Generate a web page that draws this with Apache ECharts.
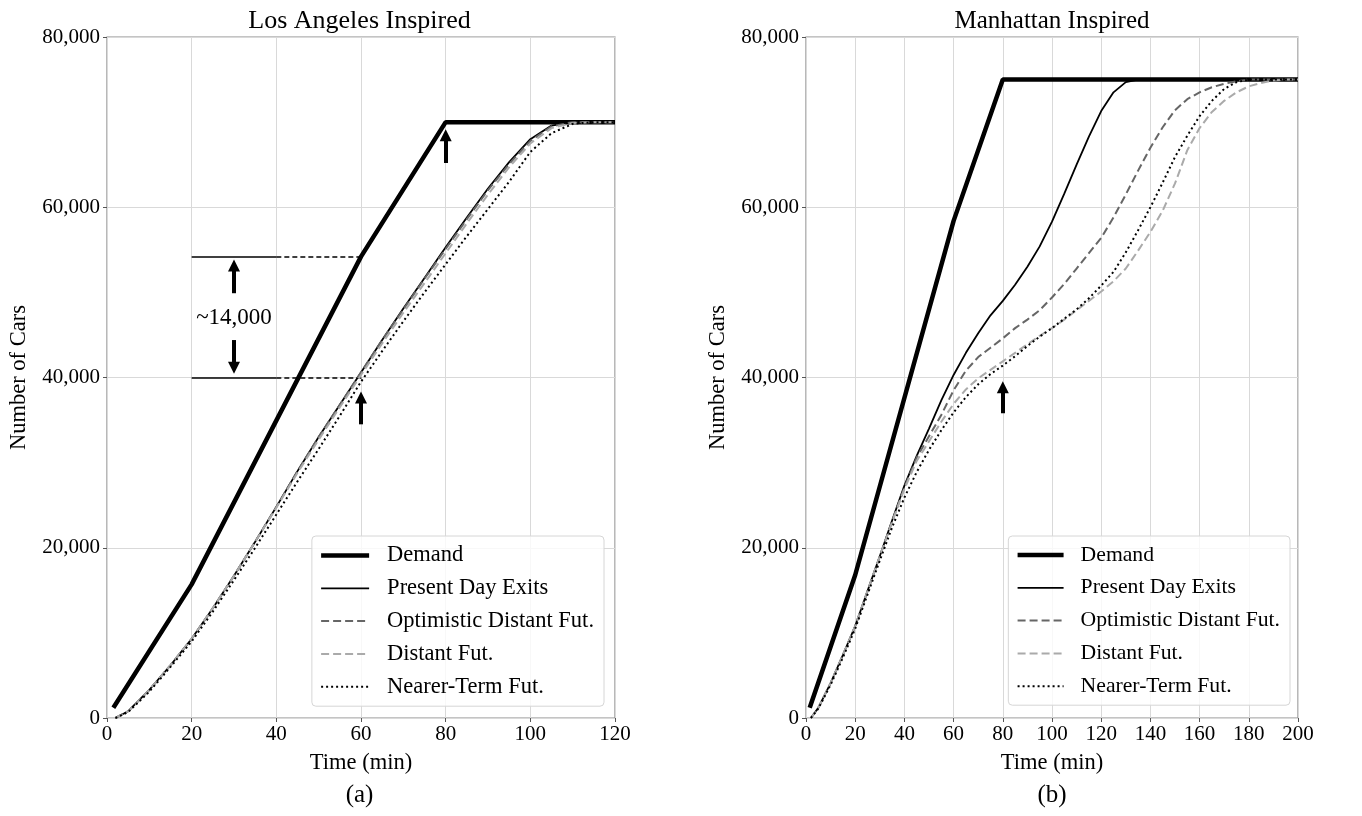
<!DOCTYPE html>
<html>
<head>
<meta charset="utf-8">
<title>Number of Cars vs Time</title>
<script src="https://cdn.jsdelivr.net/npm/echarts@6/dist/echarts.min.js"></script>
<style>
  html, body { margin: 0; padding: 0; background: #fff; }
  .panel { position: absolute; top: 0; width: 681px; height: 816px; }
  #chartA { left: 0; }
  #chartB { left: 681px; }
</style>
</head>
<body>
<div class="panel" id="chartA"></div>
<div class="panel" id="chartB"></div>
<script>
// ---- data: [time (min), number of cars] ----
const seriesNames = ['Demand', 'Present Day Exits', 'Optimistic Distant Fut.', 'Distant Fut.', 'Nearer-Term Fut.']
const yTicks = [0, 20000, 40000, 60000, 80000]

// (a) Los Angeles inspired
const laDemand = [[1.5, 1200], [20, 15700], [60, 54200], [80, 70000], [120, 70000]]
const laPresent = [[2, 0], [5, 800], [10, 3300], [15, 6200], [20, 9300], [25, 12900], [30, 16700], [35, 20700], [40, 24800], [45, 29000], [50, 33000], [55, 36800], [60, 40600], [65, 44400], [70, 48100], [75, 51700], [80, 55300], [85, 58800], [90, 62200], [95, 65300], [100, 68000], [105, 69600], [110, 70000], [120, 70000]]
const laOptimistic = [[2, 0], [5, 800], [10, 3300], [15, 6200], [20, 9300], [25, 12900], [30, 16700], [35, 20700], [40, 24800], [45, 29000], [50, 33000], [55, 36800], [60, 40600], [65, 44400], [70, 48000], [75, 51600], [80, 55100], [85, 58600], [90, 62000], [95, 65100], [100, 67800], [105, 69500], [110, 70000], [120, 70000]]
const laDistant = [[2, 0], [5, 800], [10, 3300], [15, 6200], [20, 9300], [25, 12900], [30, 16700], [35, 20700], [40, 24700], [45, 28800], [50, 32700], [55, 36500], [60, 40300], [65, 44000], [70, 47600], [75, 51100], [80, 54600], [85, 58100], [90, 61500], [95, 64700], [100, 67500], [105, 69300], [110, 69900], [115, 70000], [120, 70000]]
const laNearer = [[2, 0], [5, 700], [10, 3100], [15, 6000], [20, 9000], [25, 12500], [30, 16200], [35, 20000], [40, 23900], [45, 27800], [50, 31600], [55, 35500], [60, 39500], [65, 43100], [70, 46600], [75, 50000], [80, 53300], [85, 56600], [90, 59800], [95, 63000], [100, 66500], [105, 68700], [110, 69800], [115, 70000], [120, 70000]]

// (b) Manhattan inspired
const mhDemand = [[1.5, 1200], [20, 16800], [60, 58400], [80, 75000], [200, 75000]]
const mhPresent = [[2, 0], [5, 1200], [10, 4100], [15, 7400], [20, 10800], [25, 14900], [30, 19000], [35, 23200], [40, 27300], [45, 30800], [50, 34000], [55, 37300], [60, 40300], [65, 42900], [70, 45200], [75, 47300], [80, 49000], [85, 50900], [90, 53000], [95, 55400], [100, 58300], [105, 61600], [110, 65000], [115, 68300], [120, 71300], [125, 73500], [130, 74700], [135, 75000], [200, 75000]]
const mhOptimistic = [[2, 0], [5, 1200], [10, 4100], [15, 7400], [20, 10800], [25, 14900], [30, 19000], [35, 23100], [40, 27100], [45, 30600], [50, 33100], [55, 35600], [60, 38500], [65, 40800], [70, 42400], [75, 43500], [80, 44600], [85, 45800], [90, 46800], [95, 47900], [100, 49400], [105, 51000], [110, 52800], [115, 54600], [120, 56400], [125, 58800], [130, 61500], [135, 64300], [140, 67000], [145, 69400], [150, 71400], [155, 72700], [160, 73500], [165, 74100], [170, 74500], [175, 74800], [180, 75000], [200, 75000]]
const mhDistant = [[2, 0], [5, 1200], [10, 4100], [15, 7400], [20, 10800], [25, 14900], [30, 19000], [35, 23000], [40, 26900], [45, 30200], [50, 32500], [55, 34800], [60, 36900], [65, 38600], [70, 39900], [75, 40900], [80, 41900], [85, 42900], [90, 43900], [95, 44900], [100, 45800], [105, 46800], [110, 47900], [115, 49000], [120, 50100], [125, 51300], [130, 52800], [135, 54900], [140, 57100], [145, 59600], [150, 62800], [155, 66700], [160, 69300], [165, 71200], [170, 72500], [175, 73500], [180, 74200], [185, 74600], [190, 74900], [195, 75000], [200, 75000]]
const mhNearer = [[2, 0], [5, 1100], [10, 3900], [15, 7100], [20, 10500], [25, 14500], [30, 18500], [35, 22400], [40, 25900], [45, 28900], [50, 31500], [55, 33800], [60, 35900], [65, 37700], [70, 39200], [75, 40400], [80, 41400], [85, 42500], [90, 43700], [95, 44800], [100, 45800], [105, 46900], [110, 48000], [115, 49300], [120, 50800], [125, 52400], [130, 54700], [135, 57300], [140, 60000], [145, 62900], [150, 65900], [155, 68400], [160, 70700], [165, 72500], [170, 73900], [175, 74700], [180, 75000], [200, 75000]]

// annotations (a): guides [y, x from, x to], arrows [x, y tail, y tip]
const laGuideSolid = [[54200, 20, 40], [40000, 20, 40]]
const laGuideDashed = [[54200, 40, 60], [40000, 40, 60.5]]
const laArrows = [[30, 49900, 53800], [30, 44400, 40500], [80, 65200, 69100], [60, 34500, 38300]]
const laGapLabel = [30, 47000, '~14,000']
const mhArrows = [[80, 35800, 39500]]

const FONT = "'Liberation Serif', 'DejaVu Serif', serif"
const HEAD = 650 // arrow head half length in data units

const lineStyles = [
  { color: '#000', width: 4.5, type: 'solid' },
  { color: '#000', width: 1.8, type: 'solid' },
  { color: '#666', width: 2, type: [8, 4] },
  { color: '#aaa', width: 2, type: [8, 4] },
  { color: '#000', width: 2, type: [2, 3] },
]

function buildOption(cfg) {
  const series = cfg.lines.map((d, i) => ({
    name: seriesNames[i],
    type: 'line',
    data: d,
    symbol: 'none',
    smooth: false,
    lineStyle: lineStyles[i],
    itemStyle: { color: lineStyles[i].color },
    z: 3 + i,
  }))

  const segs = []
  cfg.guideSolid.forEach(g => segs.push([
    { coord: [g[1], g[0]], lineStyle: { type: 'solid' } }, { coord: [g[2], g[0]] },
  ]))
  cfg.guideDashed.forEach(g => segs.push([
    { coord: [g[1], g[0]], lineStyle: { type: [5, 3] } }, { coord: [g[2], g[0]] },
  ]))
  const arrows = cfg.arrows.map(a => {
    const dir = a[2] > a[1] ? 1 : -1
    return [{ coord: [a[0], a[1]] }, { coord: [a[0], a[2] - dir * HEAD] }]
  })

  series.push({
    type: 'line', data: [], silent: true,
    markLine: {
      silent: true, symbol: ['none', 'none'], animation: false,
      label: { show: false },
      lineStyle: { color: '#000', width: 1.6 },
      data: segs,
    },
  })
  series.push({
    type: 'line', data: [], silent: true,
    markLine: {
      silent: true, symbol: ['none', 'triangle'], symbolSize: [12, 12], animation: false,
      label: { show: false },
      lineStyle: { color: '#000', width: 4, type: 'solid' },
      itemStyle: { color: '#000' },
      data: arrows,
    },
  })
  if (cfg.gapLabel) {
    series.push({
      type: 'scatter', silent: true,
      data: [[cfg.gapLabel[0], cfg.gapLabel[1]]],
      symbolSize: 0,
      itemStyle: { opacity: 1, color: '#000' },
      label: {
        show: true, position: 'inside', formatter: cfg.gapLabel[2],
        color: '#000', fontFamily: FONT, fontSize: 23,
        textBorderWidth: 0, textBorderColor: 'transparent',
      },
    })
  }

  const lg = cfg.legend
  return {
    animation: false,
    backgroundColor: '#fff',
    textStyle: { fontFamily: FONT },
    grid: {
      left: cfg.grid[0], right: cfg.grid[1], top: 37, bottom: 98,
      containLabel: false, show: true, borderColor: '#8a8a8a', borderWidth: 1.2,
    },
    graphic: [
      {
        type: 'text', x: cfg.titleX, y: 21,
        style: { text: cfg.title, font: cfg.titleSize + 'px ' + FONT, fill: '#000', align: 'center', verticalAlign: 'middle' },
      },
      {
        type: 'text', x: cfg.titleX, y: 795,
        style: { text: cfg.caption, font: '25px ' + FONT, fill: '#000', align: 'center', verticalAlign: 'middle' },
      },
    ],
    legend: {
      data: seriesNames,
      orient: 'vertical',
      right: lg.right, top: 536,
      itemWidth: lg.itemWidth, itemHeight: 14, itemGap: lg.itemGap,
      padding: [8, 10, 8, 7],
      backgroundColor: 'rgba(255,255,255,0.8)',
      borderColor: '#d6d6d6', borderWidth: 1, borderRadius: 4,
      selectedMode: false,
      itemStyle: { opacity: 0 },
      lineStyle: { width: 'inherit' },
      textStyle: { color: '#000', fontFamily: FONT, fontSize: lg.fontSize, padding: [0, 0, 0, lg.textGap] },
    },
    xAxis: {
      type: 'value', min: 0, max: cfg.xMax, interval: 20,
      name: 'Time (min)', nameLocation: 'middle', nameGap: 34,
      nameTextStyle: { color: '#000', fontFamily: FONT, fontSize: 22.5 },
      axisLine: { show: false },
      axisTick: { show: true, length: 4, lineStyle: { color: '#555' } },
      axisLabel: { color: '#000', fontFamily: FONT, fontSize: 21, margin: 6 },
      splitLine: { show: true, lineStyle: { color: '#d9d9d9', width: 1 } },
    },
    yAxis: {
      type: 'value', min: yTicks[0], max: yTicks[yTicks.length - 1], interval: 20000,
      name: 'Number of Cars', nameLocation: 'middle', nameGap: 76,
      nameTextStyle: { color: '#000', fontFamily: FONT, fontSize: 22.5 },
      axisLine: { show: false },
      axisTick: { show: true, length: 4, lineStyle: { color: '#555' } },
      axisLabel: {
        color: '#000', fontFamily: FONT, fontSize: 21, margin: 7,
        formatter: v => String(v).replace(/\B(?=(\d{3})+(?!\d))/g, ','),
      },
      splitLine: { show: true, lineStyle: { color: '#d9d9d9', width: 1 } },
    },
    series: series,
  }
}

const chartA = echarts.init(document.getElementById('chartA'))
chartA.setOption(buildOption({
  title: 'Los Angeles Inspired', caption: '(a)', titleX: 359.5, titleSize: 26,
  grid: [104, 66], xMax: 120,
  legend: { right: 77, itemWidth: 48, fontSize: 22.5, textGap: 13, itemGap: 9.8 },
  lines: [laDemand, laPresent, laOptimistic, laDistant, laNearer],
  guideSolid: laGuideSolid, guideDashed: laGuideDashed,
  arrows: laArrows, gapLabel: laGapLabel,
}))

const chartB = echarts.init(document.getElementById('chartB'))
chartB.setOption(buildOption({
  title: 'Manhattan Inspired', caption: '(b)', titleX: 371, titleSize: 25,
  grid: [125, 64], xMax: 200,
  legend: { right: 72, itemWidth: 46, fontSize: 21.7, textGap: 12, itemGap: 10.8 },
  lines: [mhDemand, mhPresent, mhOptimistic, mhDistant, mhNearer],
  guideSolid: [], guideDashed: [],
  arrows: mhArrows, gapLabel: null,
}))
</script>
</body>
</html>
